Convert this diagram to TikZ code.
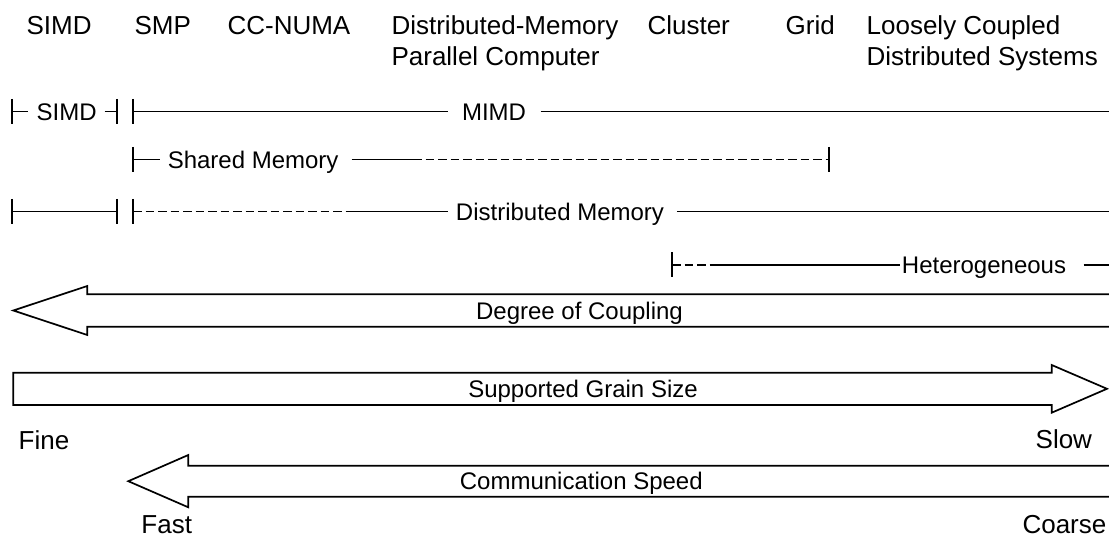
\documentclass[tikz,border=0pt]{standalone}
\usepackage{fontspec}
\setmainfont{Liberation Sans}
\begin{document}
\begin{tikzpicture}[x=1pt,y=-1pt,line width=1.7pt,
  hdr/.style={font=\fontsize{26}{31}\selectfont,inner sep=0pt,anchor=base west},
  lbl/.style={font=\fontsize{24}{29}\selectfont,inner sep=0pt,text height=17.2pt,text depth=0pt,anchor=west},
  arrlbl/.style={font=\fontsize{24}{29}\selectfont,inner sep=0pt,text height=17.2pt,text depth=0pt,anchor=center},
  dashline/.style={dash pattern=on 8.5pt off 4pt},
  bartick/.style={line width=1.7pt}]
\useasboundingbox (0,0) rectangle (1109,545);

% column headings
\node[hdr] (hSIMD)    at (25.8,35)   {SIMD};
\node[hdr] (hSMP)     at (133.8,35)  {SMP};
\node[hdr] (hNUMA)    at (226.7,35)  {CC-NUMA};
\node[hdr] (hDMa)     at (390.7,35)  {Distributed-Memory};
\node[hdr] (hDMb)     at (390.7,65.7){Parallel Computer};
\node[hdr] (hCluster) at (646.7,35)  {Cluster};
\node[hdr] (hGrid)    at (784.8,35)  {Grid};
\node[hdr] (hLCa)     at (865.8,35)  {Loosely Coupled};
\node[hdr] (hLCb)     at (865.8,65.7){Distributed Systems};

% row 1: SIMD / MIMD
\coordinate (aL) at (12,111.5);
\coordinate (aM) at (117,111.5);
\coordinate (aN) at (133,111.5);
\coordinate (aR) at (1109,111.5);
\node[lbl] (simd) at (35.8,111.5) {SIMD};
\node[lbl] (mimd) at (461.2,111.5) {MIMD};
\draw (aL) -- ([xshift=-7.8pt]simd.west);
\draw ([xshift=7.2pt]simd.east) -- (aM);
\draw (aN) -- ([xshift=-13.2pt]mimd.west);
\draw ([xshift=13.8pt]mimd.east) -- (aR);

% row 2: shared memory
\coordinate (bN) at (133,159.5);
\coordinate (bS) at (413,159.5);
\coordinate (bE) at (829,159.5);
\node[lbl] (shm) at (166.9,159.5) {Shared Memory};
\draw (bN) -- ([xshift=-6.9pt]shm.west);
\draw ([xshift=12.4pt]shm.east) -- (bS);
\draw[dashline] (bS) -- (bE);

% row 3: distributed memory
\coordinate (cL) at (12,211.5);
\coordinate (cM) at (117,211.5);
\coordinate (cN) at (133,211.5);
\coordinate (cS) at (353,211.5);
\coordinate (cR) at (1109,211.5);
\node[lbl] (dmem) at (455.1,211.5) {Distributed Memory};
\draw (cL) -- (cM);
\draw[dashline] (cN) -- (cS);
\draw (cS) -- ([xshift=-7.1pt]dmem.west);
\draw ([xshift=11.9pt]dmem.east) -- (cR);

% row 4: heterogeneous
\coordinate (dL) at (672,265);
\coordinate (dS) at (718,265);
\coordinate (dR) at (1109,265);
\node[lbl] (het) at (901.1,265) {Heterogeneous};
\draw[dashline] (dL) -- (dS);
\draw (dS) -- ([xshift=-1.1pt]het.west);
\draw ([xshift=16.8pt]het.east) -- (dR);

% end bars
\foreach \c in {aL,aM,aN,bN,bE,cL,cM,cN,dL}
  \draw[bartick] ([yshift=12.5pt]\c) -- ([yshift=-12.5pt]\c);

% broad arrows
\draw[line join=miter] (1109,294.3) -- (87.3,294.3) -- (87.3,286) -- (13.3,310.5)
  -- (87.3,335) -- (87.3,326.7) -- (1109,326.7);
\node[arrlbl] (coupling) at (579.5,310.5) {Degree of Coupling};

\draw[line join=miter] (1051.7,372.7) -- (13.3,372.7) -- (13.3,405) -- (1051.7,405)
  -- (1051.7,412.7) -- (1107,388.8) -- (1051.7,365) -- cycle;
\node[arrlbl] (grain) at (583,388.8) {Supported Grain Size};

\draw[line join=miter] (1109,465.7) -- (188.3,465.7) -- (188.3,455) -- (128.3,481.2)
  -- (188.3,507.3) -- (188.3,496.7) -- (1109,496.7);
\node[arrlbl] (speed) at (581.3,481.2) {Communication Speed};

% scale ends
\node[hdr] (fine)   at (17.9,449)    {Fine};
\node[hdr] (slow)   at (1034.8,448.5){Slow};
\node[hdr] (fast)   at (140.6,533)   {Fast};
\node[hdr] (coarse) at (1021.7,533)  {Coarse};
\end{tikzpicture}
\end{document}
